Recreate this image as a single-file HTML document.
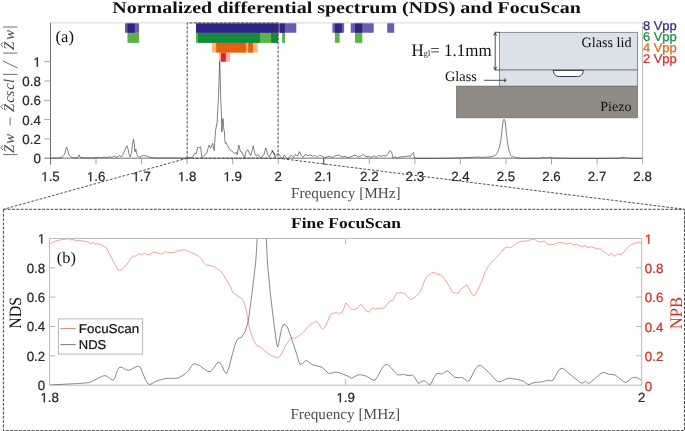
<!DOCTYPE html>
<html><head><meta charset="utf-8"><title>NDS and FocuScan</title>
<style>
html,body{margin:0;padding:0;background:#fff;}
body{width:685px;height:431px;overflow:hidden;}
svg{display:block;}
.sans{font-family:"Liberation Sans",sans-serif;stroke-width:0.22px;}
.serif{font-family:"Liberation Serif",serif;}
</style></head><body>
<svg width="685" height="431" viewBox="0 0 685 431">
<rect x="0" y="0" width="685" height="431" fill="#fff"/>
<g text-rendering="geometricPrecision" style="will-change:opacity">

<text class="serif" x="112.3" y="12.7" font-size="16.5" font-weight="bold" fill="#111" textLength="468.5" lengthAdjust="spacingAndGlyphs">Normalized differential spectrum (NDS) and FocuScan</text>
<rect x="218.80" y="52.30" width="11.40" height="9.40" fill="#FBB1B3"/>
<rect x="220.90" y="52.30" width="5.00" height="9.40" fill="#E0261D"/>
<rect x="211.90" y="42.60" width="45.80" height="9.95" fill="#FDB67C"/>
<rect x="216.20" y="42.60" width="30.00" height="9.95" fill="#E95F0B"/>
<rect x="248.20" y="42.60" width="4.80" height="9.95" fill="#E95F0B"/>
<rect x="127.45" y="32.50" width="11.55" height="10.35" fill="#5DB446"/>
<rect x="196.00" y="32.50" width="82.10" height="10.35" fill="#5DB446"/>
<rect x="198.00" y="32.50" width="61.90" height="10.35" fill="#138A3C"/>
<rect x="271.10" y="32.50" width="7.00" height="10.35" fill="#138A3C"/>
<rect x="282.10" y="32.50" width="2.90" height="10.35" fill="#5DB446"/>
<rect x="334.90" y="32.50" width="4.80" height="10.35" fill="#5DB446"/>
<rect x="355.00" y="32.50" width="7.30" height="10.35" fill="#5DB446"/>
<rect x="125.00" y="22.90" width="14.00" height="9.85" fill="#6D5BB7"/>
<rect x="127.45" y="22.90" width="7.31" height="9.85" fill="#2E2583"/>
<rect x="196.00" y="22.90" width="100.30" height="9.85" fill="#6D5BB7"/>
<rect x="196.00" y="22.90" width="82.20" height="9.85" fill="#2E2583"/>
<rect x="280.00" y="22.90" width="4.90" height="9.85" fill="#2E2583"/>
<rect x="332.40" y="22.90" width="11.70" height="9.85" fill="#6D5BB7"/>
<rect x="334.90" y="22.90" width="7.00" height="9.85" fill="#2E2583"/>
<rect x="350.70" y="22.90" width="23.00" height="9.85" fill="#6D5BB7"/>
<rect x="355.00" y="22.90" width="7.30" height="9.85" fill="#2E2583"/>
<rect x="387.20" y="22.90" width="7.00" height="9.85" fill="#6D5BB7"/>
<g fill="none" stroke-width="0.9">
<path d="M50.5 22.9 H642.6" stroke="#d4d4d4"/>
<path d="M642.6 22.9 V164.6" stroke="#b0b0b0"/>
<path d="M50.5 22.9 V164.6" stroke="#707070" stroke-width="1"/>
<path d="M44.3 158.2 H642.6" stroke="#707070" stroke-width="1"/>
<path d="M96.0 158.2 v6.2 M141.6 158.2 v6.2 M187.1 158.2 v6.2 M232.7 158.2 v6.2 M278.2 158.2 v6.2 M323.8 158.2 v6.2 M369.3 158.2 v6.2 M414.9 158.2 v6.2 M460.4 158.2 v6.2 M506.0 158.2 v6.2 M551.5 158.2 v6.2 M597.1 158.2 v6.2 " stroke="#9a9a9a"/>
<path d="M50.5 138.9 h-6.2 M50.5 119.6 h-6.2 M50.5 100.3 h-6.2 M50.5 81.0 h-6.2 M50.5 61.7 h-6.2 " stroke="#9a9a9a"/>
</g>
<path d="M323.6 158.2 V164.2 h1.6" fill="none" stroke="#333" stroke-width="0.8"/>
<path transform="translate(41.26,181.30) scale(0.00649,-0.00649)" d="M515 0V1237L197 1010V1180L530 1409H696V0Z" fill="#262626" stroke="#262626" stroke-width="34"/><text class="sans" x="48.65" y="181.30" font-size="13.3" fill="#262626" stroke="#262626">.5</text>
<path transform="translate(86.80,181.30) scale(0.00649,-0.00649)" d="M515 0V1237L197 1010V1180L530 1409H696V0Z" fill="#262626" stroke="#262626" stroke-width="34"/><text class="sans" x="94.20" y="181.30" font-size="13.3" fill="#262626" stroke="#262626">.6</text>
<path transform="translate(132.35,181.30) scale(0.00649,-0.00649)" d="M515 0V1237L197 1010V1180L530 1409H696V0Z" fill="#262626" stroke="#262626" stroke-width="34"/><text class="sans" x="139.74" y="181.30" font-size="13.3" fill="#262626" stroke="#262626">.7</text>
<path transform="translate(177.89,181.30) scale(0.00649,-0.00649)" d="M515 0V1237L197 1010V1180L530 1409H696V0Z" fill="#262626" stroke="#262626" stroke-width="34"/><text class="sans" x="185.29" y="181.30" font-size="13.3" fill="#262626" stroke="#262626">.8</text>
<path transform="translate(223.44,181.30) scale(0.00649,-0.00649)" d="M515 0V1237L197 1010V1180L530 1409H696V0Z" fill="#262626" stroke="#262626" stroke-width="34"/><text class="sans" x="230.84" y="181.30" font-size="13.3" fill="#262626" stroke="#262626">.9</text>
<text class="sans" x="274.53" y="181.30" font-size="13.3" fill="#262626" stroke="#262626">2</text>
<text class="sans" x="314.53" y="181.30" font-size="13.3" fill="#262626" stroke="#262626">2.</text><path transform="translate(325.62,181.30) scale(0.00649,-0.00649)" d="M515 0V1237L197 1010V1180L530 1409H696V0Z" fill="#262626" stroke="#262626" stroke-width="34"/>
<text class="sans" x="360.08" y="181.30" font-size="13.3" fill="#262626" stroke="#262626">2.2</text>
<text class="sans" x="405.62" y="181.30" font-size="13.3" fill="#262626" stroke="#262626">2.3</text>
<text class="sans" x="451.17" y="181.30" font-size="13.3" fill="#262626" stroke="#262626">2.4</text>
<text class="sans" x="496.72" y="181.30" font-size="13.3" fill="#262626" stroke="#262626">2.5</text>
<text class="sans" x="542.26" y="181.30" font-size="13.3" fill="#262626" stroke="#262626">2.6</text>
<text class="sans" x="587.81" y="181.30" font-size="13.3" fill="#262626" stroke="#262626">2.7</text>
<text class="sans" x="633.36" y="181.30" font-size="13.3" fill="#262626" stroke="#262626">2.8</text>
<text class="sans" x="33.40" y="163.20" font-size="13.3" fill="#262626" stroke="#262626">0</text>
<text class="sans" x="22.31" y="143.90" font-size="13.3" fill="#262626" stroke="#262626">0.2</text>
<text class="sans" x="22.31" y="124.60" font-size="13.3" fill="#262626" stroke="#262626">0.4</text>
<text class="sans" x="22.31" y="105.30" font-size="13.3" fill="#262626" stroke="#262626">0.6</text>
<text class="sans" x="22.31" y="86.00" font-size="13.3" fill="#262626" stroke="#262626">0.8</text>
<path transform="translate(33.40,66.70) scale(0.00649,-0.00649)" d="M515 0V1237L197 1010V1180L530 1409H696V0Z" fill="#262626" stroke="#262626" stroke-width="34"/>
<text class="serif" x="345.8" y="197.6" font-size="15.2" fill="#4d4d4d" text-anchor="middle" textLength="109.6" lengthAdjust="spacingAndGlyphs">Frequency [MHz]</text>
<g transform="translate(14.2,157) rotate(-90)">
<text class="serif" font-size="14.8" font-style="italic" fill="#4a4a4a" y="0" x="4.0 13.2 45.0 54.2 60.6 67.2 73.9 107.0 117.2">ZwZcsclZw</text>
<path d="M2.4 3.2 V-11.2 M82.6 3.2 V-11.2 M103.9 3.2 V-11.2 M130 3.2 V-11.2 M89 3.4 L96 -11.2 M31.6 -4.1 H39.4" fill="none" stroke="#4a4a4a" stroke-width="0.8"/>
<path d="M6.9 -11.2 L9.3 -13.4 L11.7 -11.2 M47.9 -11.2 L50.3 -13.4 L52.7 -11.2 M109.9 -11.2 L112.3 -13.4 L114.7 -11.2" fill="none" stroke="#4a4a4a" stroke-width="0.8"/>
</g>
<text class="serif" x="55.6" y="42.2" font-size="16.6" fill="#111">(a)</text>
<path d="M50.5 158.1 L58.7 157.9 L62.2 157.1 L63.8 155.5 L65.0 152.7 L65.9 148.7 L66.6 147.1 L67.3 148.7 L68.3 152.7 L69.4 155.5 L70.8 156.9 L73.9 157.9 L77.9 157.6 L78.8 156.0 L79.3 154.8 L79.7 156.0 L80.4 157.6 L91.4 157.9 L98.4 157.4 L101.2 157.6 L104.3 157.1 L106.6 157.6 L109.6 156.9 L112.0 157.4 L114.3 156.0 L116.2 157.4 L118.0 156.7 L119.4 155.3 L121.1 156.9 L122.7 155.0 L124.6 150.8 L126.0 147.6 L126.9 145.7 L127.9 148.5 L129.0 153.9 L130.2 156.9 L131.4 153.2 L132.5 144.5 L133.5 139.2 L134.2 143.4 L134.9 151.8 L135.8 149.0 L136.5 152.7 L137.4 155.5 L139.1 157.4 L140.9 156.4 L143.3 155.5 L146.3 156.0 L149.3 157.1 L154.5 157.9 L166.2 158.0 L170.8 157.9 L180.2 158.1 L187.2 158.1 L192.2 157.5 L195.0 153.0 L196.2 153.8 L197.8 147.1 L199.5 147.7 L200.6 146.6 L201.9 157.8 L204.3 155.4 L206.7 153.0 L209.1 145.0 L210.7 148.2 L212.6 143.4 L214.2 150.6 L215.5 130.5 L217.1 122.5 L217.8 109.6 L218.3 100.0 L219.2 76.0 L219.7 61.5 L220.2 76.0 L220.7 100.0 L221.3 109.6 L221.9 132.1 L222.6 119.3 L223.2 118.5 L223.7 128.9 L224.3 130.5 L225.1 143.4 L226.1 142.6 L227.6 145.8 L230.0 149.8 L233.2 152.2 L234.8 153.8 L236.1 152.2 L237.2 154.6 L238.8 145.0 L240.4 151.4 L242.0 152.2 L243.6 156.2 L244.7 157.8 L246.0 151.4 L248.0 149.8 L249.2 153.0 L250.8 155.4 L253.3 145.8 L254.9 153.8 L256.5 156.2 L258.1 154.6 L260.5 157.8 L263.7 155.4 L265.8 147.9 L267.7 154.6 L269.3 157.0 L272.5 150.6 L274.9 154.6 L271.9 150.6 L273.8 153.5 L275.3 157.3 L276.6 154.4 L278.5 153.5 L280.4 156.3 L282.3 158.8 L284.2 155.0 L286.1 157.6 L288.0 159.2 L289.9 156.3 L291.8 155.4 L293.7 157.6 L295.6 154.4 L297.5 156.3 L299.4 151.6 L301.3 155.4 L303.2 157.3 L305.1 154.4 L308.0 155.7 L310.8 155.0 L312.7 156.3 L314.6 155.4 L317.4 157.3 L319.7 155.0 L322.2 156.3 L325.0 157.6 L326.9 156.9 L329.8 156.3 L332.6 157.6 L335.5 155.7 L339.3 155.0 L342.1 156.9 L345.0 156.3 L347.8 157.6 L350.7 156.9 L353.5 155.4 L356.4 155.4 L358.3 157.3 L361.1 155.7 L363.4 154.4 L365.8 156.9 L368.7 156.3 L371.5 157.3 L374.0 155.7 L376.3 157.3 L378.6 155.4 L381.0 156.3 L383.9 155.4 L385.8 156.3 L388.0 153.5 L389.9 150.6 L390.0 150.9 L391.6 151.9 L393.1 158.0 L395.1 156.6 L397.2 158.0 L400.2 157.0 L404.3 156.6 L408.4 156.0 L410.4 156.6 L412.1 153.9 L413.5 152.5 L414.5 158.0 L416.6 158.4 L430.9 158.4 L451.3 158.2 L461.5 157.8 L471.7 157.4 L477.9 157.0 L482.0 157.4 L488.1 157.0 L492.2 156.6 L495.3 155.4 L497.3 152.9 L499.3 147.8 L500.8 140.7 L502.0 130.4 L503.0 121.2 L504.0 119.2 L505.1 121.2 L506.1 130.4 L507.3 140.7 L508.5 148.8 L510.6 155.4 L512.2 157.0 L513.6 156.2 L515.7 157.4 L518.8 158.0 L522.8 158.4 L524.1 158.4 L540.4 158.0 L543.5 157.4 L545.5 158.0 L548.6 157.6 L550.7 157.2 L552.7 158.0 L571.1 158.4 L601.7 158.4 L618.1 158.2 L622.2 157.6 L624.2 157.4 L626.3 158.0 L634.4 158.4 L642.6 158.4" fill="none" stroke="#333" stroke-width="0.62" stroke-linejoin="round"/>
<path d="M187.2 158.2 V22.9 H278.1 V158.2" fill="none" stroke="#3c3c3c" stroke-width="0.9" stroke-dasharray="2.9 1.4"/>
<path d="M187.2 158.2 H278.1" fill="none" stroke="#3c3c3c" stroke-width="0.9" stroke-dasharray="2.9 1.4"/>
<path d="M187.2 158.2 L3.4 209.3 M278.1 158.2 L684.5 209.3" fill="none" stroke="#3c3c3c" stroke-width="0.9" stroke-dasharray="2.7 1.6"/>
<rect x="3.4" y="209.3" width="681.1" height="221.3" fill="none" stroke="#3c3c3c" stroke-width="0.95" stroke-dasharray="2.9 1.4"/>
<g stroke="#666" stroke-width="0.7">
<rect x="456.6" y="86.1" width="180.8" height="31.7" fill="#8F8A83"/>
<rect x="499.6" y="32.3" width="137.8" height="37.7" fill="#DAE1E9"/>
<rect x="499.6" y="70.0" width="137.8" height="16.1" fill="#DAE1E9"/>
<path d="M553.2 70.4 H583.4 C583 74.7 580.5 76.5 577.5 76.5 H559.2 C556.2 76.5 553.6 74.7 553.2 70.4 Z" fill="#fff" stroke="#222" stroke-width="0.9"/>
</g>
<g fill="none" stroke="#222" stroke-width="0.8"><path d="M494.3 32.3 H499.6 M494.3 70.0 H499.6 M495.2 33 V69.4"/><path d="M493.6 35.6 L495.2 33 L496.8 35.6 M493.6 66.8 L495.2 69.4 L496.8 66.8"/><path d="M484 80.3 H506 M504 78.6 L506.2 80.3 L504 82"/></g>
<text class="serif" x="411.6" y="55.9" font-size="17.6" fill="#111" textLength="80" lengthAdjust="spacingAndGlyphs">H<tspan font-size="8.5">gl</tspan>= 1.1mm</text>
<text class="serif" x="445.0" y="80.7" font-size="14.3" fill="#111">Glass</text>
<text class="serif" x="581.5" y="47" font-size="14.2" fill="#111">Glass lid</text>
<text class="serif" x="600.3" y="111.4" font-size="14" fill="#111">Piezo</text>
<text class="sans" x="642.9" y="30.4" font-size="12.7" fill="#2E2583" stroke="#2E2583" textLength="33.9" lengthAdjust="spacingAndGlyphs">8 Vpp</text>
<text class="sans" x="642.9" y="41.2" font-size="12.7" fill="#138A3C" stroke="#138A3C" textLength="33.9" lengthAdjust="spacingAndGlyphs">6 Vpp</text>
<text class="sans" x="642.9" y="51.9" font-size="12.7" fill="#E95F0B" stroke="#E95F0B" textLength="33.9" lengthAdjust="spacingAndGlyphs">4 Vpp</text>
<text class="sans" x="642.9" y="62.7" font-size="12.7" fill="#E0261D" stroke="#E0261D" textLength="33.9" lengthAdjust="spacingAndGlyphs">2 Vpp</text>
<text class="serif" x="291" y="228.4" font-size="15" font-weight="bold" fill="#111" textLength="110" lengthAdjust="spacingAndGlyphs">Fine FocuScan</text>
<rect x="49.6" y="238.4" width="592.1" height="146.8" fill="none" stroke="#b4b4b4" stroke-width="0.9"/>
<path d="M49.6 355.8 h5.8 M641.7 355.8 h-5.8 M49.6 326.5 h5.8 M641.7 326.5 h-5.8 M49.6 297.1 h5.8 M641.7 297.1 h-5.8 M49.6 267.8 h5.8 M641.7 267.8 h-5.8 M345.6 385.2 v-6.2 M345.6 238.4 v6.2" fill="none" stroke="#b0b0b0" stroke-width="0.9"/>
<clipPath id="cb"><rect x="49.6" y="238.4" width="592.1" height="146.8"/></clipPath>
<g clip-path="url(#cb)" fill="none" stroke-linejoin="round">
<path d="M50.1 244.1 L52.0 242.5 L55.5 240.9 L61.4 239.7 L67.2 239.0 L68.4 238.5 L70.2 239.9 L73.0 239.5 L75.4 240.4 L80.0 240.4 L83.5 241.3 L88.2 241.8 L90.6 243.7 L92.9 242.5 L95.2 244.1 L97.6 243.7 L102.2 245.1 L106.2 247.9 L109.2 253.5 L112.7 260.0 L116.2 266.6 L117.9 270.1 L120.9 270.1 L123.3 267.5 L126.8 264.7 L130.3 258.9 L133.3 256.1 L136.1 256.1 L138.4 253.7 L141.2 254.7 L144.3 253.5 L147.8 254.7 L150.1 254.9 L152.9 251.9 L156.0 252.6 L159.5 253.5 L161.8 254.2 L165.3 251.4 L167.6 252.6 L171.1 252.6 L174.6 252.3 L178.1 250.7 L181.7 250.0 L185.2 249.8 L188.7 251.2 L192.2 253.0 L195.0 254.2 L198.5 256.1 L201.5 258.9 L204.3 263.5 L206.7 265.4 L210.2 265.4 L213.7 266.6 L217.2 268.7 L220.7 271.2 L224.2 275.9 L227.7 282.2 L231.2 288.1 L232.4 292.0 L237.0 295.5 L240.6 297.8 L242.9 299.7 L245.2 305.5 L246.9 314.2 L248.3 323.5 L250.6 331.7 L253.4 339.9 L256.9 345.7 L260.4 346.9 L263.9 349.9 L267.4 353.2 L270.9 355.5 L274.4 356.9 L277.2 358.1 L280.3 356.2 L282.6 351.6 L286.1 344.6 L289.6 339.9 L291.9 337.6 L295.4 338.3 L298.9 335.9 L303.6 332.2 L307.1 327.7 L310.6 324.2 L314.1 322.4 L316.5 321.4 L318.8 324.2 L322.3 329.4 L324.6 327.7 L327.0 323.1 L330.5 314.2 L334.0 313.0 L336.3 312.1 L338.7 313.7 L342.2 312.1 L344.0 307.9 L345.7 303.0 L346.2 302.8 L348.5 306.3 L351.5 309.1 L354.8 309.6 L357.8 307.9 L360.7 304.4 L363.2 306.7 L366.0 311.0 L368.8 312.1 L371.2 309.1 L372.6 307.9 L375.4 309.1 L378.9 308.2 L384.2 308.2 L387.0 304.4 L389.8 300.9 L392.9 300.2 L394.5 296.9 L396.4 293.2 L399.9 292.7 L403.4 293.0 L405.3 293.9 L408.1 297.4 L410.9 299.7 L413.9 297.9 L416.9 295.5 L419.7 292.7 L422.1 286.9 L424.9 279.9 L426.8 276.8 L429.1 275.2 L431.9 272.9 L434.2 272.4 L437.3 274.5 L440.3 274.5 L443.1 277.1 L446.6 282.2 L449.6 286.9 L452.5 292.3 L455.3 293.2 L458.3 293.2 L461.1 288.8 L464.1 286.9 L466.9 284.6 L468.8 288.1 L471.1 292.7 L473.0 295.5 L475.3 294.6 L478.1 289.2 L480.9 283.4 L483.3 276.8 L485.2 271.7 L488.0 267.0 L491.0 262.8 L494.5 259.6 L495.0 258.9 L498.5 255.4 L502.0 251.2 L505.5 247.2 L508.5 247.2 L511.4 247.4 L514.2 244.8 L517.2 243.0 L520.7 241.3 L524.2 241.3 L527.7 240.6 L531.2 239.7 L533.5 239.0 L535.9 240.2 L538.2 241.8 L541.7 241.8 L544.1 240.9 L547.6 244.1 L551.1 244.4 L553.4 244.6 L556.9 243.2 L559.9 242.3 L563.9 243.0 L567.4 244.1 L570.2 243.0 L573.3 244.8 L576.3 244.1 L579.1 245.5 L581.9 246.7 L584.9 245.5 L588.0 247.7 L590.8 246.7 L594.3 247.9 L597.3 248.8 L600.1 248.8 L602.9 251.2 L606.0 253.0 L609.0 255.8 L611.1 253.0 L613.0 254.7 L614.8 256.5 L617.6 253.5 L620.0 254.7 L623.0 253.0 L625.8 249.5 L628.6 246.5 L631.7 244.4 L634.7 243.2 L637.5 242.5 L639.8 242.0 L641.7 243.2" stroke="#F0695B" stroke-width="0.62"/>
<path d="M50.1 385.0 L59.0 384.5 L68.4 384.0 L77.7 383.6 L83.5 383.1 L89.4 382.6 L94.1 380.3 L98.7 378.0 L102.2 376.1 L105.3 375.6 L107.6 376.6 L110.4 378.9 L113.2 380.3 L115.1 377.3 L117.4 370.3 L119.7 367.2 L122.1 367.4 L125.6 369.6 L129.1 370.3 L132.6 368.6 L136.1 366.7 L138.4 366.3 L140.3 367.2 L142.6 372.6 L145.4 379.6 L147.8 383.6 L149.6 384.5 L152.0 383.6 L154.8 381.9 L158.3 380.3 L161.8 379.6 L165.3 378.4 L168.8 378.4 L173.5 378.4 L178.1 378.0 L181.7 376.1 L185.2 373.8 L188.7 370.3 L191.0 366.7 L193.3 363.9 L195.0 363.9 L199.7 365.6 L204.3 369.1 L207.8 371.4 L210.9 371.4 L213.7 367.9 L217.2 362.8 L219.5 362.1 L221.9 365.6 L224.2 371.0 L226.5 373.8 L228.9 367.9 L232.4 353.9 L235.9 342.2 L238.2 338.7 L241.7 337.1 L245.2 331.7 L248.3 321.2 L250.6 303.7 L252.2 292.0 L255.7 262.4 L259.7 200.0 L264.6 200.0 L267.4 262.4 L270.2 292.0 L272.1 308.4 L274.4 327.0 L276.8 344.6 L277.9 346.9 L279.6 338.7 L281.4 329.4 L283.3 324.7 L284.9 324.2 L287.3 327.0 L289.6 332.9 L293.1 343.4 L296.6 353.9 L298.9 362.1 L300.6 364.9 L302.9 363.2 L306.0 360.4 L308.3 361.6 L311.8 364.4 L315.3 365.6 L318.8 366.3 L322.3 367.4 L325.8 371.0 L328.6 373.3 L331.7 373.1 L335.2 372.1 L338.7 372.6 L342.2 373.8 L345.0 374.9 L347.8 376.1 L351.5 378.4 L354.3 376.8 L357.8 374.9 L361.4 374.9 L364.9 375.6 L368.4 377.3 L371.9 379.6 L374.9 380.3 L377.7 376.6 L380.5 371.0 L383.5 366.3 L385.9 364.4 L388.2 364.9 L391.3 367.9 L394.5 371.9 L397.6 374.9 L400.6 374.9 L403.4 374.2 L406.2 375.2 L409.2 375.6 L412.3 374.9 L414.6 377.3 L416.9 381.2 L418.6 383.6 L420.9 381.9 L423.3 380.8 L425.6 381.2 L427.9 383.6 L429.8 385.0 L431.9 381.9 L434.2 377.3 L436.6 373.8 L438.9 373.3 L441.9 374.2 L444.3 372.6 L446.6 371.0 L448.9 371.9 L452.0 374.9 L454.8 377.3 L458.3 377.7 L461.8 377.5 L464.6 378.9 L467.6 381.2 L469.3 380.8 L472.3 374.9 L475.3 369.1 L478.1 365.8 L480.5 365.3 L483.3 367.2 L486.3 370.3 L489.8 373.3 L493.3 377.3 L497.3 381.5 L500.1 381.9 L503.2 380.3 L506.7 378.7 L510.2 378.2 L513.7 378.9 L517.2 379.4 L520.7 380.3 L524.2 381.5 L526.5 383.6 L528.9 384.7 L531.2 383.6 L534.2 382.4 L538.2 382.2 L541.7 381.9 L544.5 381.2 L547.6 380.3 L550.6 380.8 L552.9 380.3 L555.3 376.6 L557.6 372.1 L559.9 369.1 L562.3 368.2 L564.6 369.6 L567.9 372.6 L571.6 375.6 L575.6 378.9 L578.6 381.2 L581.4 383.1 L583.8 382.6 L585.6 381.2 L588.4 383.6 L591.2 381.9 L594.3 379.1 L597.3 376.6 L600.1 374.2 L602.9 372.4 L605.3 372.8 L608.3 374.2 L611.8 374.5 L615.3 375.2 L618.3 377.3 L621.1 379.6 L623.9 381.9 L626.3 382.4 L629.3 380.1 L632.4 377.7 L635.2 377.3 L638.0 378.0 L640.3 379.6 L641.7 380.3" stroke="#404040" stroke-width="0.62"/>
</g>
<text class="sans" x="37.80" y="390.20" font-size="13.3" fill="#262626" stroke="#262626">0</text>
<text class="sans" x="644.80" y="390.50" font-size="13.3" fill="#DC271C" stroke="#DC271C">0</text>
<text class="sans" x="26.71" y="360.84" font-size="13.3" fill="#262626" stroke="#262626">0.2</text>
<text class="sans" x="644.80" y="361.14" font-size="13.3" fill="#DC271C" stroke="#DC271C">0.2</text>
<text class="sans" x="26.71" y="331.48" font-size="13.3" fill="#262626" stroke="#262626">0.4</text>
<text class="sans" x="644.80" y="331.78" font-size="13.3" fill="#DC271C" stroke="#DC271C">0.4</text>
<text class="sans" x="26.71" y="302.12" font-size="13.3" fill="#262626" stroke="#262626">0.6</text>
<text class="sans" x="644.80" y="302.42" font-size="13.3" fill="#DC271C" stroke="#DC271C">0.6</text>
<text class="sans" x="26.71" y="272.76" font-size="13.3" fill="#262626" stroke="#262626">0.8</text>
<text class="sans" x="644.80" y="273.06" font-size="13.3" fill="#DC271C" stroke="#DC271C">0.8</text>
<path transform="translate(37.80,243.40) scale(0.00649,-0.00649)" d="M515 0V1237L197 1010V1180L530 1409H696V0Z" fill="#262626" stroke="#262626" stroke-width="34"/>
<path transform="translate(644.80,243.70) scale(0.00649,-0.00649)" d="M515 0V1237L197 1010V1180L530 1409H696V0Z" fill="#DC271C" stroke="#DC271C" stroke-width="34"/>
<path transform="translate(40.36,402.20) scale(0.00649,-0.00649)" d="M515 0V1237L197 1010V1180L530 1409H696V0Z" fill="#262626" stroke="#262626" stroke-width="34"/><text class="sans" x="47.75" y="402.20" font-size="13.3" fill="#262626" stroke="#262626">.8</text>
<path transform="translate(336.41,402.20) scale(0.00649,-0.00649)" d="M515 0V1237L197 1010V1180L530 1409H696V0Z" fill="#262626" stroke="#262626" stroke-width="34"/><text class="sans" x="343.80" y="402.20" font-size="13.3" fill="#262626" stroke="#262626">.9</text>
<text class="sans" x="638.00" y="402.20" font-size="13.3" fill="#262626" stroke="#262626">2</text>
<text class="serif" x="345.2" y="418.8" font-size="15.2" fill="#4d4d4d" text-anchor="middle" textLength="109.6" lengthAdjust="spacingAndGlyphs">Frequency [MHz]</text>
<text class="serif" x="56.8" y="262.6" font-size="16.4" fill="#111">(b)</text>
<g transform="translate(20.5,312.9) rotate(-90)"><text class="serif" font-size="17.3" fill="#111" x="-15.9" textLength="31.8" lengthAdjust="spacingAndGlyphs">NDS</text></g>
<g transform="translate(681.5,313.0) rotate(-90)"><text class="serif" font-size="17.6" fill="#DC271C" x="-16.2" textLength="32.4" lengthAdjust="spacingAndGlyphs">NPB</text></g>
<rect x="58.5" y="318.9" width="84.2" height="35.2" fill="none" stroke="#a8a8a8" stroke-width="0.8"/>
<path d="M60.4 328.5 H75.8" stroke="#F0685A" stroke-width="0.8"/>
<path d="M60.4 344.6 H75.8" stroke="#555" stroke-width="0.8"/>
<text class="sans" x="78.8" y="332.9" font-size="12.8" fill="#111" stroke="#111" textLength="60.4" lengthAdjust="spacingAndGlyphs">FocuScan</text>
<text class="sans" x="78.8" y="349.3" font-size="12.8" fill="#111" stroke="#111" textLength="27.4" lengthAdjust="spacingAndGlyphs">NDS</text>
</g>
</svg>
</body></html>
